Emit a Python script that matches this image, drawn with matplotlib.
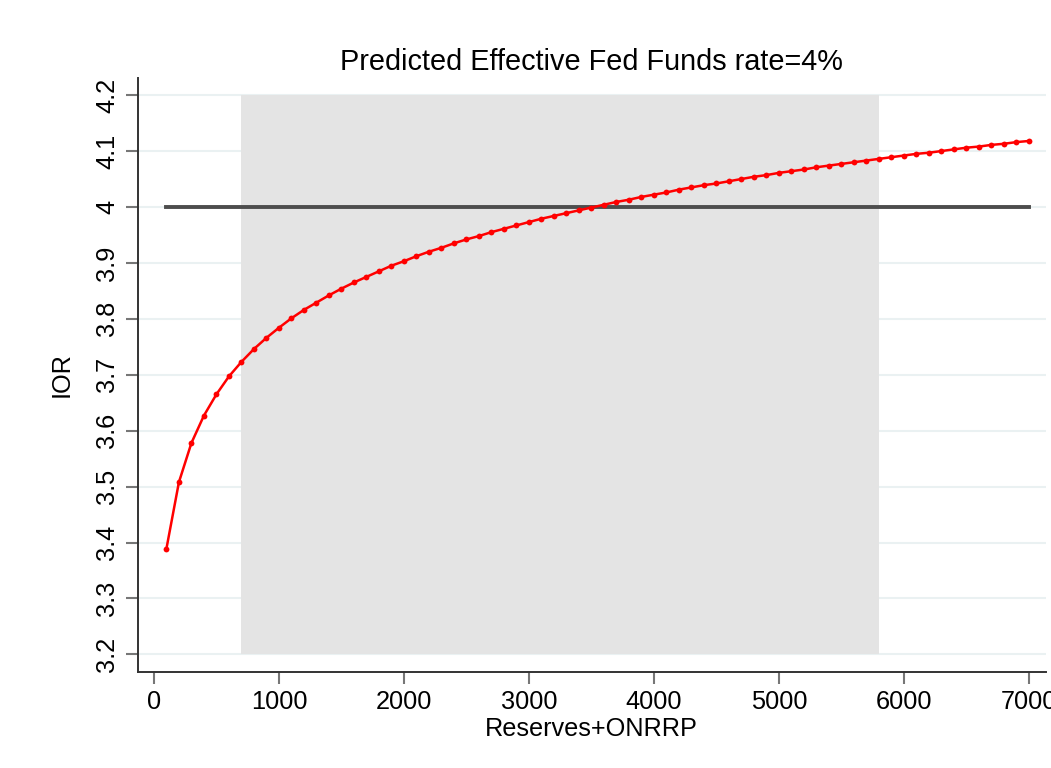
import matplotlib
matplotlib.use("Agg")
import matplotlib.pyplot as plt

plt.rcParams['font.family'] = ['Liberation Sans', 'DejaVu Sans']

# reserves + ONRRP grid (100 .. 7000)
reserves = [100 * k for k in range(1, 71)]

# predicted IOR at each level
ior = [
    3.389, 3.508, 3.578, 3.627, 3.665, 3.697, 3.723, 3.746, 3.766, 3.784,
    3.801, 3.816, 3.829, 3.842, 3.854, 3.865, 3.875, 3.885, 3.895, 3.903,
    3.912, 3.920, 3.927, 3.935, 3.942, 3.948, 3.955, 3.961, 3.967, 3.973,
    3.979, 3.984, 3.989, 3.994, 3.999, 4.004, 4.009, 4.013, 4.018, 4.022,
    4.026, 4.031, 4.035, 4.039, 4.042, 4.046, 4.050, 4.054, 4.057, 4.061,
    4.064, 4.067, 4.071, 4.074, 4.077, 4.080, 4.083, 4.086, 4.089, 4.092,
    4.095, 4.097, 4.100, 4.103, 4.106, 4.108, 4.111, 4.113, 4.116, 4.118,
]

target_rate = 4.0
band_x = [700, 5800]
band_y = [3.2, 4.2]
xticks = [0, 1000, 2000, 3000, 4000, 5000, 6000, 7000]
yticks = [3.2, 3.3, 3.4, 3.5, 3.6, 3.7, 3.8, 3.9, 4.0, 4.1, 4.2]
ytick_labels = ['3.2', '3.3', '3.4', '3.5', '3.6', '3.7', '3.8', '3.9', '4', '4.1', '4.2']

fig = plt.figure(figsize=(10.51, 7.68), dpi=100)
ax = fig.add_axes([0.131, 0.1254, 0.864, 0.7726])

# shaded range
ax.fill_between(band_x, band_y[0], band_y[1], color='#e4e4e4', lw=0, zorder=1)

# light horizontal grid
for yv in yticks:
    ax.axhline(yv, color='#eaf1f2', lw=1.5, zorder=0.5)

# target line
ax.plot([reserves[0], reserves[-1]], [target_rate, target_rate],
        color='#4d4d4d', lw=2.8, zorder=2)

# predicted curve
ax.plot(reserves, ior, color='red', lw=1.8, marker='o', markersize=4.2,
        markeredgewidth=0, zorder=3)

ax.set_xlim(-130, 7134)
ax.set_ylim(3.169, 4.23)
ax.set_xticks(xticks)
ax.set_yticks(yticks)
ax.set_yticklabels(ytick_labels, rotation=90, va='center')

for side in ['top', 'right']:
    ax.spines[side].set_visible(False)
for side in ['left', 'bottom']:
    ax.spines[side].set_color('#333333')
    ax.spines[side].set_linewidth(1.4)

ax.tick_params(axis='both', length=8.5, width=1.5, color='#777777',
               labelsize=18.3, labelcolor='black', pad=5)

ax.set_xlabel('Reserves+ONRRP', fontsize=18.2, labelpad=2)
ax.set_ylabel('IOR', fontsize=18.2, labelpad=15)
ax.set_title('Predicted Effective Fed Funds rate=4%', fontsize=20.8, pad=6)

fig.savefig('out.png', dpi=100, facecolor='white')
